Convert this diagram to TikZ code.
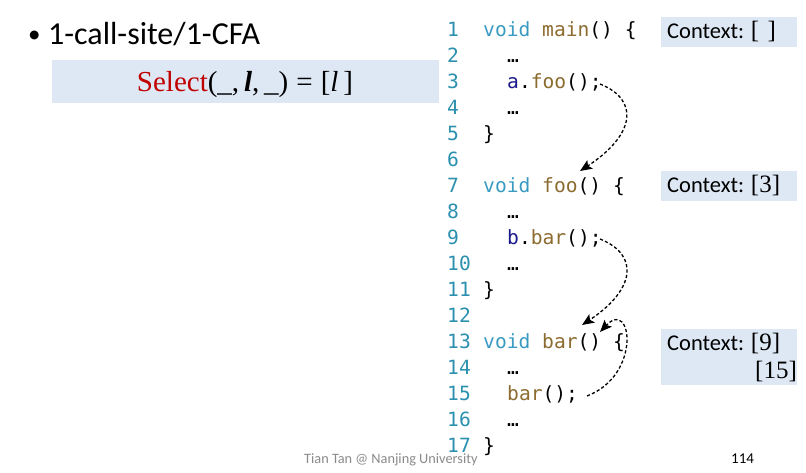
\documentclass[tikz,border=0pt]{standalone}
\usepackage{fontspec}
\setmainfont{Carlito}
\newfontfamily\codefont{DejaVu Sans Mono}
\newfontfamily\mathlike{Liberation Serif}
\usetikzlibrary{arrows.meta}
\definecolor{boxfill}{HTML}{DEE8F4}
\definecolor{lnumc}{HTML}{2B8FAE}
\definecolor{kwc}{HTML}{3A9BC2}
\definecolor{fnc}{HTML}{8C6B30}
\definecolor{varc}{HTML}{1A1A8C}
\definecolor{selred}{HTML}{C00000}
\definecolor{footc}{HTML}{8A8A8A}
\newcommand\kwd[1]{\textcolor{kwc}{#1}}
\newcommand\fnm[1]{\textcolor{fnc}{#1}}
\newcommand\vrb[1]{\textcolor{varc}{#1}}
\newcommand\brk[1]{{\mathlike\fontsize{25}{26}\selectfont #1}}
\tikzset{
  lnum/.style={anchor=base west, inner sep=0pt, text=lnumc, font=\codefont\fontsize{19.6}{20}\selectfont},
  code/.style={anchor=base west, inner sep=0pt, text=black, font=\codefont\fontsize{19.6}{20}\selectfont},
  ctxbox/.style={fill=boxfill, draw=none, anchor=north west, inner sep=0pt},
  ctxtext/.style={anchor=base west, inner sep=0pt, font=\fontsize{22.5}{24}\selectfont},
  callarrow/.style={draw=black, line width=1.3pt, dash pattern=on 3.2pt off 2.2pt, -{Stealth[length=12pt,width=10pt,inset=2.5pt]}},
}
\begin{document}
\begin{tikzpicture}[x=1pt,y=-1pt]
\useasboundingbox (0,0) rectangle (806,473);
% title
\node[anchor=base west, inner sep=0pt, font=\fontsize{25}{26}\selectfont] (bul) at (28,43) {•};
\node[anchor=base west, inner sep=0pt, font=\fontsize{32}{34}\selectfont] (title) at (48,45) {1-call-site/1-CFA};
% formula box
\node[ctxbox, minimum width=387pt, minimum height=43pt] (selbox) at (52,60) {};
\node[anchor=base, inner sep=0pt, font=\mathlike\fontsize{29}{30}\selectfont] (sel) at (245,92)
  {\textcolor{selred}{Select}(\_,\,\textbf{\textit{l}},\,\_)\;=\;[\textit{l}\,]};
% footer
\node[anchor=base west, inner sep=0pt, text=footc, font=\fontsize{14.3}{16}\selectfont] (foot) at (304,463) {Tian Tan @ Nanjing University};
\node[anchor=base west, inner sep=0pt, font=\fontsize{15}{16}\selectfont] (page) at (731,463) {114};
% context boxes
\node[ctxbox, minimum width=136pt, minimum height=30pt] (cb1) at (661,17) {};
\node[ctxbox, minimum width=136pt, minimum height=30pt] (cb2) at (661,171) {};
\node[ctxbox, minimum width=136pt, minimum height=56pt] (cb3) at (661,329) {};
\node[ctxtext] (ct1) at (667,39) {Context: \brk{[\,\,]}};
\node[ctxtext] (ct2) at (667,193) {Context: \brk{[3]}};
\node[ctxtext] (ct3) at (667,350) {Context: \brk{[9]}};
\node[ctxtext] (ct3b) at (755,378) {\brk{[15]}};
% line numbers
\foreach \n in {1,...,17}
  \node[lnum] (ln\n) at (447,{37+25.94*(\n-1)}) {\n};
% code
\node[code] (c1) at (483,37) {\kwd{void} \fnm{main}() \{};
\node[code] (c2) at (507,62.9) {…};
\node[code] (c3) at (507,88.9) {\vrb{a}.\fnm{foo}();};
\node[code] (c4) at (507,114.8) {…};
\node[code] (c5) at (483,140.8) {\}};
\node[code] (c7) at (483,192.6) {\kwd{void} \fnm{foo}() \{};
\node[code] (c8) at (507,218.6) {…};
\node[code] (c9) at (507,244.5) {\vrb{b}.\fnm{bar}();};
\node[code] (c10) at (507,270.5) {…};
\node[code] (c11) at (483,296.4) {\}};
\node[code] (c13) at (483,348.3) {\kwd{void} \fnm{bar}() \{};
\node[code] (c14) at (507,374.2) {…};
\node[code] (c15) at (507,400.2) {\fnm{bar}();};
\node[code] (c16) at (507,426.1) {…};
\node[code] (c17) at (483,452) {\}};
% call edges
\coordinate (s1) at (600,84);
\coordinate (t1) at (580,171);
\coordinate (s2) at (600,239);
\coordinate (t2) at (582,325);
\coordinate (s3) at (587,396);
\coordinate (t3) at (600,332);
\draw[callarrow] (s1) .. controls (640,100) and (635,135) .. (t1);
\draw[callarrow] (s2) .. controls (640,255) and (635,290) .. (t2);
\draw[callarrow] (s3) .. controls (642,375) and (632,298) .. (t3);
\end{tikzpicture}
\end{document}
